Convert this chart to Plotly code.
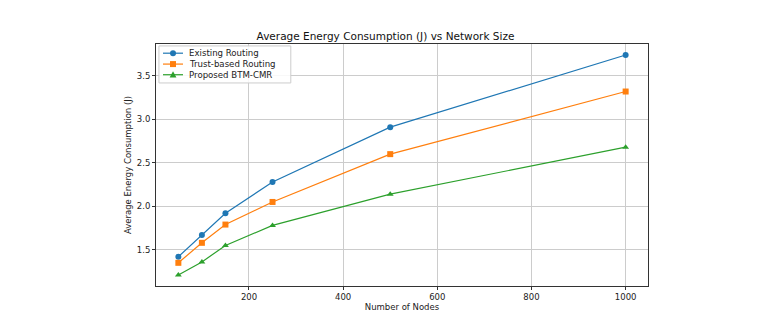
import plotly.graph_objects as go

nodes = [50, 100, 150, 250, 500, 1000]
existing = [1.42, 1.67, 1.92, 2.28, 2.91, 3.74]
trust = [1.35, 1.58, 1.79, 2.05, 2.60, 3.32]
proposed = [1.21, 1.36, 1.55, 1.78, 2.14, 2.68]

series = [
    ("Existing Routing", existing, "#1f77b4", "circle"),
    ("Trust-based Routing", trust, "#ff7f0e", "square"),
    ("Proposed BTM-CMR", proposed, "#2ca02c", "triangle-up"),
]

FONT = "DejaVu Sans"
fig = go.Figure()
for name, vals, color, sym in series:
    fig.add_trace(go.Scatter(
        x=nodes, y=vals, name=name, mode="lines+markers",
        line=dict(color=color, width=1.2),
        marker=dict(color=color, symbol=sym, size=6),
        showlegend=False,
    ))

# compact matplotlib-style legend built from shapes/annotations
shapes = [dict(type="rect", xref="paper", yref="paper",
               x0=0.006, x1=0.274, y0=0.839, y1=0.992,
               line=dict(color="#cccccc", width=1), fillcolor="rgba(255,255,255,0.85)",
               layer="above")]
annotations = []
row_y = [0.962, 0.917, 0.873]
lx0, lx1, mx, tx = 0.0142, 0.0549, 0.0346, 0.063
for (name, vals, color, sym), ry in zip(series, row_y):
    shapes.append(dict(type="line", xref="paper", yref="paper", x0=lx0, x1=lx1,
                       y0=ry, y1=ry, line=dict(color=color, width=1.2), layer="above"))
    common = dict(xref="paper", yref="paper", xsizemode="pixel", ysizemode="pixel",
                  xanchor=mx, yanchor=ry, fillcolor=color,
                  line=dict(color=color, width=0), layer="above")
    if sym == "circle":
        shapes.append(dict(type="circle", x0=-3, x1=3, y0=-3, y1=3, **common))
    elif sym == "square":
        shapes.append(dict(type="rect", x0=-3, x1=3, y0=-3, y1=3, **common))
    else:
        shapes.append(dict(type="path", path="M -3.4 -2.8 L 3.4 -2.8 L 0 3.4 Z", **common))
    annotations.append(dict(xref="paper", yref="paper", x=tx, y=ry, text=name,
                            showarrow=False, xanchor="left", yanchor="middle",
                            font=dict(family=FONT, size=8.6, color="#222222")))

axis_common = dict(
    showline=True, linecolor="#333333", linewidth=1, mirror=True,
    showgrid=True, gridcolor="#cccccc", gridwidth=1,
    ticks="outside", ticklen=3, tickcolor="#333333",
    tickfont=dict(family=FONT, size=8.5, color="#222222"),
    zeroline=False,
)

fig.update_layout(
    width=771, height=321,
    margin=dict(l=156, r=123, t=44, b=35),
    paper_bgcolor="white", plot_bgcolor="white",
    title=dict(text="Average Energy Consumption (J) vs Network Size",
               x=0.5, xanchor="center", y=0.888, yanchor="middle",
               font=dict(family=FONT, size=10.5, color="#111111")),
    xaxis=dict(range=[2.5, 1047.5], tickvals=[200, 400, 600, 800, 1000],
               title=dict(text="Number of Nodes", standoff=0,
                          font=dict(family=FONT, size=8.5, color="#222222")),
               **axis_common),
    yaxis=dict(range=[1.0835, 3.8665], tickvals=[1.5, 2.0, 2.5, 3.0, 3.5],
               tickformat=".1f",
               title=dict(text="Average Energy Consumption (J)", standoff=3,
                          font=dict(family=FONT, size=8.5, color="#222222")),
               **axis_common),
    shapes=shapes,
    annotations=annotations,
    showlegend=False,
)

fig.write_html("out.html")
